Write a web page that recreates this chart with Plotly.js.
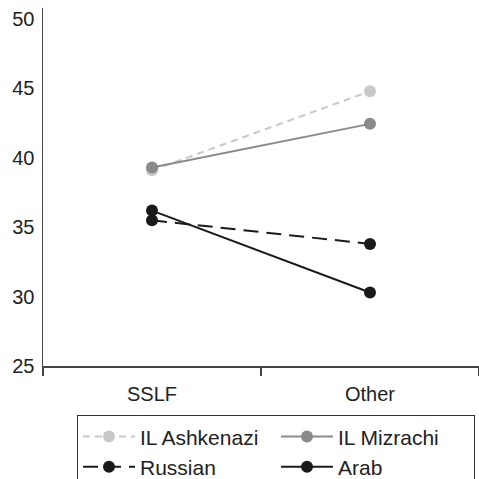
<!DOCTYPE html>
<html>
<head>
<meta charset="utf-8">
<script src="https://cdn.plot.ly/plotly-3.0.1.min.js"></script>
<style>
html, body { margin:0; padding:0; overflow:hidden; background:#fff; }
#chart { width:479px; height:500px; }
</style>
</head>
<body>
<div id="chart"></div>
<script>
const categories = ["SSLF", "Other"];
const seriesNames = ["IL Ashkenazi", "IL Mizrachi", "Russian", "Arab"];
const ashkenazi = [39.1, 44.8];
const mizrachi = [39.3, 42.45];
const russian = [35.5, 33.8];
const arab = [36.2, 30.3];
const yTicks = [25, 30, 35, 40, 45, 50];

const FONT = "Liberation Sans, Arial, Helvetica, sans-serif";

function tr(name, y, color, dash, order) {
  return {
    x: categories, y: y, name: name, type: "scatter", mode: "lines+markers",
    line: {color: color, width: 2, dash: dash},
    marker: {color: color, size: 12},
    legendrank: order
  };
}

const data = [
  tr(seriesNames[0], ashkenazi, "#c8c8c8", "7px,5px", 1),
  tr(seriesNames[1], mizrachi, "#8a8a8c", "solid", 2),
  tr(seriesNames[3], arab, "#1a1a1a", "solid", 4),
  tr(seriesNames[2], russian, "#1a1a1a", "15px,8px", 3)
];

const layout = {
  width: 479, height: 500,
  margin: {l: 43, r: 0, t: 8, b: 133.5},
  paper_bgcolor: "#fff", plot_bgcolor: "#fff",
  font: {family: FONT, size: 20, color: "#222"},
  showlegend: true,
  xaxis: {
    type: "category", range: [-0.5, 1.5],
    showline: true, linecolor: "#444", linewidth: 1.5,
    showgrid: false, zeroline: false,
    ticks: "outside", tickson: "boundaries", ticklen: 8, tickcolor: "#444", tickwidth: 1.5,
    ticklabelstandoff: 9,
    tickfont: {size: 20, color: "#222"}
  },
  yaxis: {
    range: [25, 50.8],
    tickvals: yTicks, ticktext: yTicks.map(String),
    showline: true, linecolor: "#444", linewidth: 1.5,
    showgrid: false, zeroline: false, ticks: "",
    ticklabelstandoff: 3,
    tickfont: {size: 20, color: "#222"}
  },
  legend: {
    orientation: "h", x: 0.078, xanchor: "left", y: -0.138, yanchor: "top",
    bordercolor: "#333", borderwidth: 1, bgcolor: "#fff",
    font: {size: 21, color: "#222"},
    itemwidth: 52, entrywidth: 131, entrywidthmode: "pixels",
    traceorder: "normal"
  }
};

Plotly.newPlot("chart", data, layout, {displayModeBar: false, staticPlot: true});
</script>
</body>
</html>
